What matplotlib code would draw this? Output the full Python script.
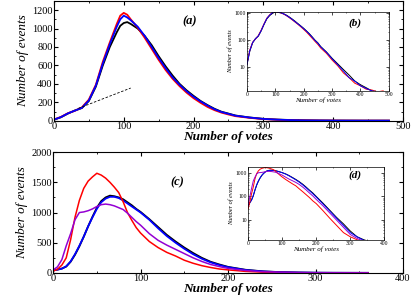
import numpy as np
import matplotlib
matplotlib.use("Agg")
import matplotlib.pyplot as plt
from matplotlib.ticker import MultipleLocator, LogLocator, NullFormatter, FixedFormatter, FixedLocator

plt.rcParams["font.family"] = ["Liberation Serif", "DejaVu Serif"]

# panel (a)/(b): three nearly identical distributions
votes_a = [0, 10, 20, 30, 40, 50, 60, 70, 80, 90, 95, 100, 105, 110, 120, 130, 140, 150, 160, 170,
           180, 190, 200, 210, 220, 230, 240, 250, 260, 280, 300, 320, 340, 360, 380, 400, 420, 440, 460, 480]
black_a = [12, 38, 78, 112, 138, 215, 370, 600, 800, 960, 1030, 1060, 1070, 1050, 1000, 920, 820, 700, 590, 490,
           400, 330, 270, 215, 170, 130, 98, 78, 57, 36, 21, 13, 8, 5, 3, 2.2, 1.7, 1.3, 1.2, 1.1]
red_a = [13, 42, 82, 108, 145, 230, 390, 640, 850, 1050, 1140, 1170, 1150, 1100, 1010, 900, 780, 660, 550, 455,
         375, 305, 245, 195, 150, 115, 88, 68, 50, 32, 18, 11, 6, 4, 2.5, 2, 1.5, 1.4, 1.2, 1.3]
blue_a = [12, 40, 80, 110, 140, 220, 380, 620, 830, 1020, 1100, 1140, 1120, 1090, 1020, 920, 800, 680, 570, 470,
          390, 320, 260, 210, 165, 125, 95, 75, 55, 35, 20, 12, 7, 4, 3, 2, 1.6, 1.3, 1.2, 1.1]
fit_x = [35, 110]
fit_y = [135, 355]

# panel (c)/(d): four distributions
votes_c = [0, 5, 10, 15, 20, 25, 30, 35, 40, 45, 50, 55, 60, 65, 70, 75, 80, 85, 90, 95, 100,
           110, 120, 130, 140, 150, 160, 170, 180, 190, 200, 220, 240, 260, 280, 300, 320, 340, 360]
black_c = [40, 55, 72, 105, 185, 300, 440, 600, 770, 930, 1080, 1190, 1250, 1280, 1270, 1250, 1220, 1170, 1120, 1060, 1010,
           890, 760, 630, 520, 420, 330, 250, 185, 140, 100, 52, 26, 13, 7, 3.5, 2, 1.5, 1.2]
blue_c = [40, 55, 70, 110, 190, 310, 450, 600, 770, 920, 1060, 1170, 1230, 1260, 1260, 1240, 1200, 1150, 1100, 1050, 1000,
          880, 740, 610, 500, 400, 310, 235, 175, 130, 95, 48, 24, 12, 6, 3, 2, 1.4, 1.1]
red_c = [30, 60, 130, 250, 550, 920, 1200, 1400, 1520, 1590, 1650, 1620, 1570, 1500, 1420, 1330, 1180, 1000, 870, 750, 660,
         520, 420, 340, 280, 210, 160, 120, 90, 65, 50, 25, 12, 6, 3, 2, 1.5, 1.2, 1]
purple_c = [50, 100, 220, 450, 650, 880, 1000, 1010, 1030, 1060, 1100, 1130, 1140, 1130, 1110, 1080, 1050, 990, 920, 850, 790,
            650, 540, 460, 390, 320, 250, 190, 140, 105, 75, 40, 20, 10, 5, 2.5, 1.7, 1.3, 1]

PURPLE = "#9400d3"


def style_main(ax, xmaj, xmin, ymaj, ymin):
    ax.xaxis.set_major_locator(MultipleLocator(xmaj))
    ax.xaxis.set_minor_locator(MultipleLocator(xmin))
    ax.yaxis.set_major_locator(MultipleLocator(ymaj))
    ax.yaxis.set_minor_locator(MultipleLocator(ymin))
    ax.tick_params(which="both", direction="in", top=True, right=True, labelsize=7.5, pad=1)
    ax.tick_params(which="major", length=3)
    ax.tick_params(which="minor", length=1.5)
    ax.set_xlabel("Number of votes", fontsize=9.5, fontweight="bold", style="italic", labelpad=0)
    ax.set_ylabel("Number of events", fontsize=9.5, style="italic", labelpad=2)


def style_inset(ax, xmax):
    ax.set_yscale("log")
    ax.xaxis.set_major_locator(MultipleLocator(100))
    ax.xaxis.set_minor_locator(MultipleLocator(50))
    ax.yaxis.set_major_locator(FixedLocator([10, 100, 1000]))
    ax.yaxis.set_major_formatter(FixedFormatter(["10", "100", "1000"]))
    ax.yaxis.set_minor_locator(LogLocator(base=10, subs=np.arange(2, 10)))
    ax.yaxis.set_minor_formatter(NullFormatter())
    ax.tick_params(which="both", direction="in", top=True, right=True, labelsize=4, pad=1)
    ax.tick_params(which="major", length=2, width=0.5)
    ax.tick_params(which="minor", length=1, width=0.4)
    ax.set_xlim(0, xmax)
    ax.set_xlabel("Number of votes", fontsize=5, style="italic", labelpad=0)
    ax.set_ylabel("Number of events", fontsize=4.5, style="italic", labelpad=1)
    for s in ax.spines.values():
        s.set_linewidth(0.5)


fig = plt.figure(figsize=(4.15, 2.96), dpi=100)

ax_a = fig.add_axes([0.130, 0.592, 0.841, 0.405])
ax_a.plot(votes_a, black_a, color="black", lw=1.3)
ax_a.plot(votes_a, red_a, color="red", lw=1.3)
ax_a.plot(votes_a, blue_a, color="blue", lw=1.3)
ax_a.plot(fit_x, fit_y, color="black", lw=0.6, ls=(0, (3, 2)))
ax_a.set_xlim(0, 500)
ax_a.set_ylim(0, 1300)
style_main(ax_a, 100, 50, 200, 100)
ax_a.text(0.39, 0.826, "(a)", transform=ax_a.transAxes, fontsize=9,
          fontweight="bold", style="italic", ha="center", va="center")

ax_b = fig.add_axes([0.595, 0.693, 0.342, 0.267])
ax_b.plot(votes_a, black_a, color="black", lw=0.7)
ax_b.plot(votes_a, red_a, color="red", lw=0.7)
ax_b.plot(votes_a, blue_a, color="blue", lw=0.7)
ax_b.set_ylim(1.3, 1100)
style_inset(ax_b, 500)
ax_b.text(0.76, 0.86, "(b)", transform=ax_b.transAxes, fontsize=8,
          fontweight="bold", style="italic", ha="center", va="center")

ax_c = fig.add_axes([0.128, 0.078, 0.843, 0.408])
ax_c.plot(votes_c, black_c, color="black", lw=1.3)
ax_c.plot(votes_c, blue_c, color="blue", lw=1.3)
ax_c.plot(votes_c, red_c, color="red", lw=1.1)
ax_c.plot(votes_c, purple_c, color=PURPLE, lw=1.1)
ax_c.set_xlim(0, 400)
ax_c.set_ylim(0, 2000)
style_main(ax_c, 100, 50, 500, 250)
ax_c.text(0.354, 0.75, "(c)", transform=ax_c.transAxes, fontsize=9,
          fontweight="bold", style="italic", ha="center", va="center")

ax_d = fig.add_axes([0.598, 0.19, 0.328, 0.245])
ax_d.plot(votes_c, black_c, color="black", lw=0.7)
ax_d.plot(votes_c, blue_c, color="blue", lw=0.7)
ax_d.plot(votes_c, red_c, color="red", lw=0.7)
ax_d.plot(votes_c, purple_c, color=PURPLE, lw=0.7)
ax_d.set_ylim(1.5, 1700)
style_inset(ax_d, 400)
ax_d.text(0.787, 0.89, "(d)", transform=ax_d.transAxes, fontsize=8,
          fontweight="bold", style="italic", ha="center", va="center")

fig.savefig("out.png", dpi=100)
